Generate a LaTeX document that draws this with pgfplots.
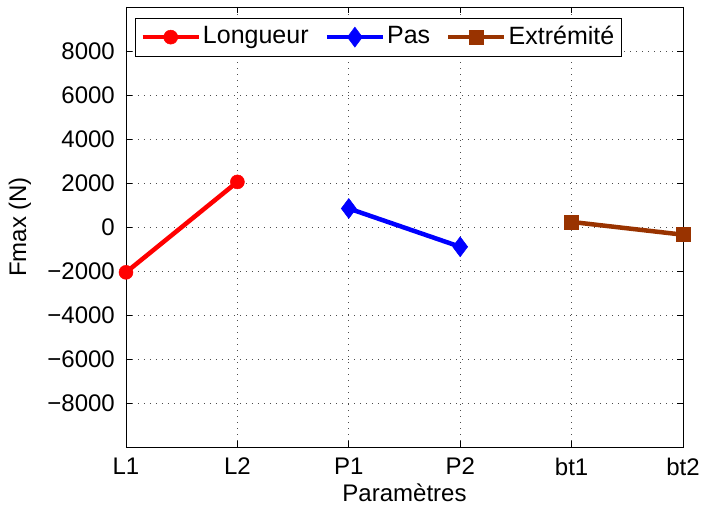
\documentclass[border=0pt]{standalone}
\usepackage{fontspec}
\setmainfont{Liberation Sans}
\usepackage{pgfplots}
\pgfplotsset{compat=1.18}
\definecolor{brn}{RGB}{153,51,0}
\begin{document}
\begin{tikzpicture}
\fontsize{24}{28}\selectfont
\path[use as bounding box] (-126pt,-64pt) rectangle (576pt,447pt);
\begin{axis}[
  at={(0,0)}, anchor=south west,
  scale only axis, width=557pt, height=440pt,
  xmin=1, xmax=6, ymin=-10000, ymax=10000,
  xtick={1,2,3,4,5,6}, xticklabels={L1,L2,P1,P2,bt1,bt2},
  ytick={-8000,-6000,-4000,-2000,0,2000,4000,6000,8000},
  yticklabels={−8000,−6000,−4000,−2000,0,2000,4000,6000,8000},
  tick label style={font=\fontsize{24}{28}\selectfont},
  yticklabel style={xshift=-3pt},
  xticklabel style={yshift=-3pt},
  label style={font=\fontsize{24}{28}\selectfont},
  xlabel={Paramètres}, ylabel={Fmax (N)},
  xlabel style={yshift=8pt},
  ylabel style={yshift=0pt},
  grid=major, grid style={black!70, dash pattern=on 1pt off 5pt, line width=0.8pt},
  tick align=inside, major tick length=6pt,
  axis line style={line width=0.9pt},
  tick style={line width=0.9pt, black},
  legend columns=3,
  legend style={at={(rel axis cs:0.0162,0.9757)}, anchor=north west,
    font=\fontsize{25}{28}\selectfont, draw=black, line width=0.9pt,
    inner xsep=5pt, inner ysep=6pt, row sep=0pt,
    /tikz/every even column/.append style={column sep=14pt},
    nodes={inner sep=2pt}},
  legend image code/.code={\draw[mark repeat=2, mark phase=2] plot coordinates {(0pt,0pt) (28pt,0pt) (56pt,0pt)};},
  legend cell align=left,
]
\addplot[red, line width=4.5pt, mark=*, mark size=7pt, mark options={solid, fill=red, line width=0.5pt}] coordinates {(1,-2060) (2,2050)};
\addlegendentry{Longueur}
\addplot[blue, line width=4.5pt, mark=diamond*, mark size=10pt, mark options={solid, fill=blue, line width=0.5pt}] coordinates {(3,840) (4,-900)};
\addlegendentry{Pas}
\addplot[brn, line width=4.5pt, mark=square*, mark size=7pt, mark options={solid, fill=brn, line width=0.5pt}] coordinates {(5,230) (6,-350)};
\addlegendentry{Extrémité}
\end{axis}
\end{tikzpicture}
\end{document}
